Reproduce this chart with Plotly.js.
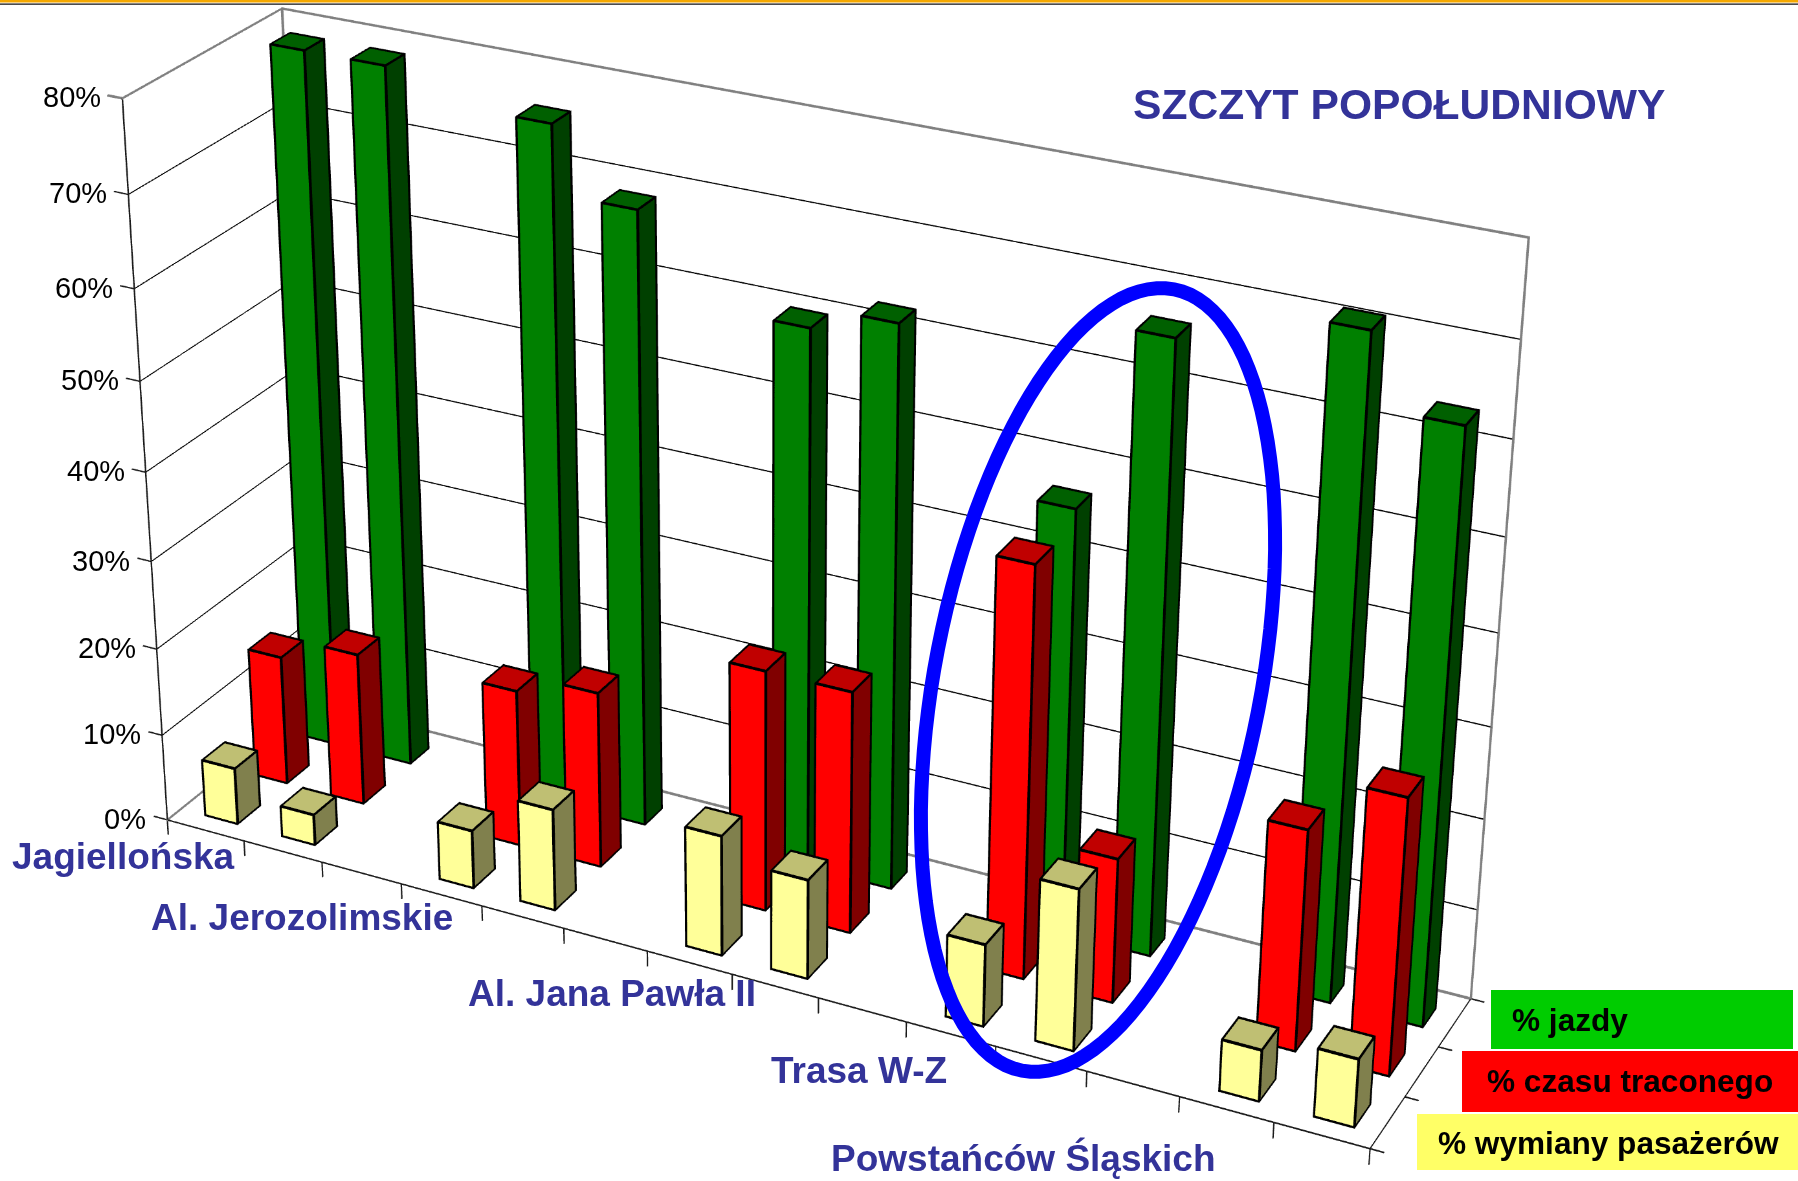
<!DOCTYPE html>
<html><head><meta charset="utf-8">
<script src="https://cdn.plot.ly/plotly-3.0.1.min.js"></script>
<style>html,body{margin:0;padding:0;width:1798px;height:1181px;overflow:hidden;background:#fff}
#g3d{position:absolute;left:-1062px;top:-1515px;width:3728px;height:3728px}
#top{position:absolute;left:0;top:0;width:1798px;height:1181px;pointer-events:none}</style>
</head><body><div id="g3d"></div><div id="top"></div>
<script>
const streets=['Jagiellońska','Al. Jerozolimskie','Al. Jana Pawła II','Trasa W-Z','Powstańców Śląskich'];
const slots=[1,2,4,5,7,8,10,11,13,14];
const streetTick=[1,4,7,10,13];
const pctPassenger=[6.5,3.5,6.6,11.5,13.5,11.1,9.1,17.8,5.6,7.4];
const pctLost=[14.9,17.5,17.9,20,27.1,27.1,45.3,16,24.2,30.1];
const pctDrive=[78.9,78.9,76.1,68.8,60,62.4,46.9,66.6,71.2,63.7];
const zTicks=[0,10,20,30,40,50,60,70,80];
const seriesNames=['% jazdy','% czasu traconego','% wymiany pasażerów'];
const NX=14,NY=3,ZMAX=80;
const barW=0.42,barD=[0.44,0.44,0.38],barFront=0.28,barCentre=-0.475;
const PX={x:90,y:55,z:9.7};
const flat={ambient:1,diffuse:0,specular:0,roughness:1,fresnel:0};
function barMesh(vals,row,cols,name){
  const x=[],y=[],z=[],i=[],j=[],k=[],fc=[];
  vals.forEach((v,n)=>{
    const c=slots[n]+barCentre,b=x.length;
    const x0=c-barW/2,x1=c+barW/2,y0=row+barFront,y1=y0+barD[row];
    [[x0,y0,0],[x1,y0,0],[x1,y1,0],[x0,y1,0],[x0,y0,v],[x1,y0,v],[x1,y1,v],[x0,y1,v]].forEach(p=>{x.push(p[0]);y.push(p[1]);z.push(p[2])});
    const quads=[[0,1,5,4,cols.front],[1,2,6,5,cols.side],[4,5,6,7,cols.top],[3,0,4,7,cols.side],[2,3,7,6,cols.front],[0,3,2,1,cols.front]];
    quads.forEach(q=>{i.push(b+q[0],b+q[0]);j.push(b+q[1],b+q[2]);k.push(b+q[2],b+q[3]);fc.push(q[4],q[4])});
  });
  return {type:'mesh3d',name,x,y,z,i,j,k,facecolor:fc,flatshading:true,hoverinfo:'skip',showscale:false,lighting:flat,lightposition:{x:0,y:0,z:1e5}};
}
// thick lines: WebGL line width is capped at 1px here, so each stroke is a thin box mesh
function sticks(segs,color,w){
  const x=[],y=[],z=[],i=[],j=[],k=[];
  const hx=w/4/PX.x,hy=w/4/PX.y,hz=w/4/PX.z;
  segs.forEach(s=>{
    const b=x.length,lo=[Math.min(s[0][0],s[1][0])-hx,Math.min(s[0][1],s[1][1])-hy,Math.min(s[0][2],s[1][2])-hz],
      hi=[Math.max(s[0][0],s[1][0])+hx,Math.max(s[0][1],s[1][1])+hy,Math.max(s[0][2],s[1][2])+hz];
    for(let c=0;c<8;c++){x.push(c&1?hi[0]:lo[0]);y.push(c&2?hi[1]:lo[1]);z.push(c&4?hi[2]:lo[2]);}
    [[0,1,3,2],[4,5,7,6],[0,1,5,4],[2,3,7,6],[0,2,6,4],[1,3,7,5]].forEach(q=>{i.push(b+q[0],b+q[0]);j.push(b+q[1],b+q[2]);k.push(b+q[2],b+q[3]);});
  });
  return {type:'mesh3d',x,y,z,i,j,k,color,flatshading:true,hoverinfo:'skip',showscale:false,lighting:flat,lightposition:{x:0,y:0,z:1e5}};
}
function edges(vals,row){
  const out=[];
  vals.forEach((v,n)=>{
    const c=slots[n]+barCentre,x0=c-barW/2,x1=c+barW/2,y0=row+barFront,y1=y0+barD[row];
    out.push([[x0,y0,0],[x1,y0,0]],[[x1,y0,0],[x1,y1,0]],[[x0,y0,0],[x0,y0,v]],[[x1,y0,0],[x1,y0,v]],[[x1,y1,0],[x1,y1,v]],
      [[x0,y0,v],[x1,y0,v]],[[x1,y0,v],[x1,y1,v]],[[x1,y1,v],[x0,y1,v]],[[x0,y1,v],[x0,y0,v]]);
  });
  return out;
}
const grid=[],frame=[],dark=[];
zTicks.forEach(t=>{
  const s=[[[0,0,t],[0,NY,t]],[[0,NY,t],[NX,NY,t]]];
  (t===0||t===ZMAX?frame:grid).push(...s);
  (t===ZMAX?frame:dark).push([[0,0,t],[-0.17,0,t]]);
});
frame.push([[0,NY,0],[0,NY,ZMAX]],[[NX,NY,0],[NX,NY,ZMAX]]);
dark.push([[0,0,0],[0,0,ZMAX]],[[0,0,0],[NX,0,0]],[[NX,0,0],[NX,NY,0]]);
for(let c=0;c<=NX;c++)dark.push([[c,0,0],[c,0,-1.7]]);
for(let r=0;r<=NY;r++)dark.push([[NX,r,0],[NX+0.14,r,0]]);
const traces=[
  barMesh(pctPassenger,0,{front:'#ffff99',side:'#80804d',top:'#bfbf73'},seriesNames[2]),
  barMesh(pctLost,1,{front:'#ff0000',side:'#800000',top:'#c00000'},seriesNames[1]),
  barMesh(pctDrive,2,{front:'#008000',side:'#004000',top:'#006000'},seriesNames[0]),
  sticks(grid,'#000000',1.4),sticks(frame,'#808080',3),sticks(dark,'#1a1a1a',1.6)
];
[pctPassenger,pctLost,pctDrive].forEach((v,r)=>traces.push(sticks(edges(v,r),'#000000',3.2)));
const labelShift=[[-121,-16],[-180,-12],[-120,-19],[-137,-24],[-250,-36]];
const annos3d=[];
zTicks.forEach(t=>annos3d.push({x:0,y:0,z:t,text:t+'%',showarrow:false,xanchor:'right',yanchor:'middle',xshift:-19,yshift:1,
  font:{family:'Liberation Sans, Arial, sans-serif',size:29,color:'#000'}}));
streets.forEach((s,n)=>annos3d.push({x:streetTick[n],y:0,z:0,text:'<b>'+s+'</b>',showarrow:false,xanchor:'center',yanchor:'middle',
  xshift:labelShift[n][0],yshift:labelShift[n][1],font:{family:'Liberation Sans, Arial, sans-serif',size:37,color:'#333399'}}));
const hid={visible:false};
const layout3d={width:3728,height:3728,margin:{l:0,r:0,t:0,b:0},paper_bgcolor:'#fff',showlegend:false,
 scene:{domain:{x:[0,1],y:[0,1]},bgcolor:'#fff',dragmode:false,
  xaxis:Object.assign({range:[-0.6,14.6]},hid),yaxis:Object.assign({range:[-0.4,3.4]},hid),zaxis:Object.assign({range:[-10,90]},hid),
  aspectmode:'manual',aspectratio:{x:1.0917,y:0.2749,z:0.7633},
  camera:{eye:{x:1.321,y:-2.654,z:1.498},center:{x:-0.063,y:0.131,z:0.097},up:{x:-0.184,y:0.361,z:0.911},projection:{type:'perspective'}},
  annotations:annos3d}};
Plotly.newPlot('g3d',traces,layout3d,{plotGlPixelRatio:2,displayModeBar:false,scrollZoom:false});

// overlay: page furniture (rule, ellipse, legend boxes, title)
const ell=[];const cx=1098,cy=680,a=398,b=163,th=11*Math.PI/180;
for(let d=0;d<360;d+=3){const t=d*Math.PI/180,u=b*Math.cos(t),v=a*Math.sin(t);
  ell.push((d?'L':'M')+(cx+u*Math.cos(th)+v*Math.sin(th)).toFixed(1)+','+(cy+u*Math.sin(th)-v*Math.cos(th)).toFixed(1));}
const rect=(x0,x1,y0,y1,c)=>({type:'rect',x0,x1,y0,y1,fillcolor:c,line:{width:0},layer:'above'});
const legendBoxes=[[1491,1793,990,1049,'#00cc00',1510,1020],[1462,1798,1051,1112,'#ff0000',1485,1081],[1417,1798,1114,1170,'#ffff66',1436,1143]];
const shapes=[rect(0,1798,0,2.5,'#f5a800'),rect(0,1798,3.5,4.8,'#111111')];
legendBoxes.forEach(l=>shapes.push(rect(l[0],l[1],l[2],l[3],l[4])));
shapes.push({type:'path',path:ell.join(' ')+' Z',line:{color:'#0000ff',width:14},fillcolor:'rgba(0,0,0,0)',layer:'above'});
const annos=[{x:1131,y:104,text:'<b>SZCZYT POPOŁUDNIOWY</b>',showarrow:false,xanchor:'left',yanchor:'middle',font:{family:'Liberation Sans, Arial, sans-serif',size:42.6,color:'#333399'}}];
seriesNames.forEach((s,n)=>annos.push({x:legendBoxes[n][5],y:legendBoxes[n][6],text:'<b>'+s+'</b>',showarrow:false,xanchor:'left',yanchor:'middle',font:{family:'Liberation Sans, Arial, sans-serif',size:31.6,color:'#000'}}));
Plotly.newPlot('top',[],{width:1798,height:1181,margin:{l:0,r:0,t:0,b:0},paper_bgcolor:'rgba(0,0,0,0)',plot_bgcolor:'rgba(0,0,0,0)',
  xaxis:{range:[0,1798],visible:false,fixedrange:true},yaxis:{range:[1181,0],visible:false,fixedrange:true},shapes,annotations:annos,showlegend:false},{staticPlot:true,displayModeBar:false});
</script></body></html>
